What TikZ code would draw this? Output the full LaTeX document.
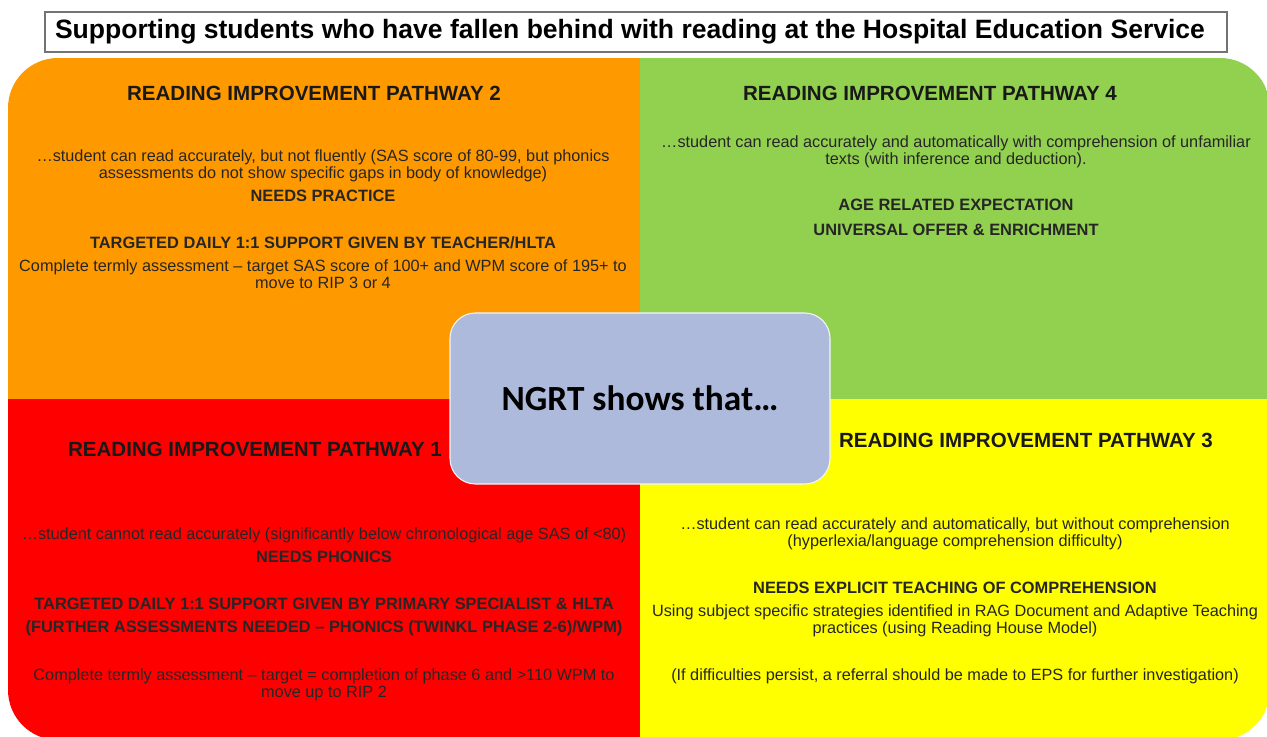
\documentclass[tikz,border=0pt]{standalone}
\usepackage{fontspec}
\setmainfont{Liberation Sans}
\newfontfamily\ngrtfont{Carlito}
\definecolor{ripOrange}{HTML}{FF9900}
\definecolor{ripGreen}{HTML}{92D050}
\definecolor{ripRed}{HTML}{FF0000}
\definecolor{ripYellow}{HTML}{FFFF00}
\definecolor{ngrtBlue}{HTML}{AEBADC}
\tikzset{
  heading/.style={inner sep=0pt, text=black!90, font=\bfseries\fontsize{15.4}{18}\selectfont},
  bodytext/.style={inner sep=0pt, align=center, text=black!85, font=\fontsize{12.2}{12.75}\selectfont},
  boldtext/.style={bodytext, font=\bfseries\fontsize{12.3}{17.25}\selectfont},
}

\begin{document}
\begin{tikzpicture}[x=0.75pt, y=-0.75pt]
				\useasboundingbox (0,0) rectangle (1267,737);
				
				% title
				\node[draw=black!55, line width=0.9pt, fill=white, minimum height=30pt, inner xsep=7.5pt, inner ysep=0pt,
				      text width=871.5pt, align=flush left,
				      font=\bfseries\fontsize{19.9}{22}\selectfont] (title) at (636,32)
				      {Supporting students who have fallen behind with reading at the Hospital Education Service};
				
				% the four pathways
				\begin{scope}
					\clip[rounded corners=37.5pt] (8,58) rectangle (1270,740);
					\fill[ripOrange] (8,58) rectangle (640,399);
					\fill[ripGreen] (640,58) rectangle (1270,399);
					\fill[ripRed] (8,399) rectangle (640,740);
					\fill[ripYellow] (640,399) rectangle (1270,740);
				\end{scope}
				
				% pathway 2
				\node[heading] (rip2) at (314,93) {READING IMPROVEMENT PATHWAY 2};
				\node[bodytext] (rip2a) at (323,165.5) {\ldots student can read accurately, but not fluently (SAS score of 80-99, but phonics\\assessments do not show specific gaps in body of knowledge)};
				\node[boldtext] (rip2b) at (323,196) {NEEDS PRACTICE};
				\node[boldtext] (rip2c) at (323,243) {TARGETED DAILY 1:1 SUPPORT GIVEN BY TEACHER/HLTA};
				\node[bodytext] (rip2d) at (323,274.5) {Complete termly assessment -- target SAS score of 100+ and WPM score of 195+ to\\move to RIP 3 or 4};
				
				% pathway 4
				\node[heading] (rip4) at (930,93) {READING IMPROVEMENT PATHWAY 4};
				\node[bodytext] (rip4a) at (956,151.5) {\ldots student can read accurately and automatically with comprehension of unfamiliar\\texts (with inference and deduction).};
				\node[boldtext] (rip4b) at (956,205) {AGE RELATED EXPECTATION};
				\node[boldtext] (rip4c) at (956,230) {UNIVERSAL OFFER \& ENRICHMENT};
				
				% pathway 1
				\node[heading] (rip1) at (255,449) {READING IMPROVEMENT PATHWAY 1};
				\node[bodytext] (rip1a) at (324,535) {\ldots student cannot read accurately (significantly below chronological age SAS of <80)};
				\node[boldtext] (rip1b) at (324,557) {NEEDS PHONICS};
				\node[boldtext] (rip1c) at (324,616.5) {TARGETED DAILY 1:1 SUPPORT GIVEN BY PRIMARY SPECIALIST \& HLTA\\(FURTHER ASSESSMENTS NEEDED -- PHONICS (TWINKL PHASE 2-6)/WPM)};
				\node[bodytext] (rip1d) at (324,684.5) {Complete termly assessment -- target = completion of phase 6 and >110 WPM to\\move up to RIP 2};
				
				% pathway 3
				\node[heading] (rip3) at (1026,440) {READING IMPROVEMENT PATHWAY 3};
				\node[bodytext] (rip3a) at (955,533.5) {\ldots student can read accurately and automatically, but without comprehension\\(hyperlexia/language comprehension difficulty)};
				\node[boldtext] (rip3b) at (955,588) {NEEDS EXPLICIT TEACHING OF COMPREHENSION};
				\node[bodytext] (rip3c) at (955,621) {Using subject specific strategies identified in RAG Document and Adaptive Teaching\\practices (using Reading House Model)};
				\node[bodytext] (rip3d) at (955,676) {(If difficulties persist, a referral should be made to EPS for further investigation)};
				
				% centre box
				\node[draw=white!85!ngrtBlue, line width=0.8pt, fill=ngrtBlue, rounded corners=19pt,
				      minimum width=285pt, minimum height=128.25pt, inner sep=0pt,
				      font=\ngrtfont\bfseries\fontsize{26.5}{30}\selectfont] (ngrt) at (640,398.5) {NGRT shows that…};
			\end{tikzpicture}
\end{document}
